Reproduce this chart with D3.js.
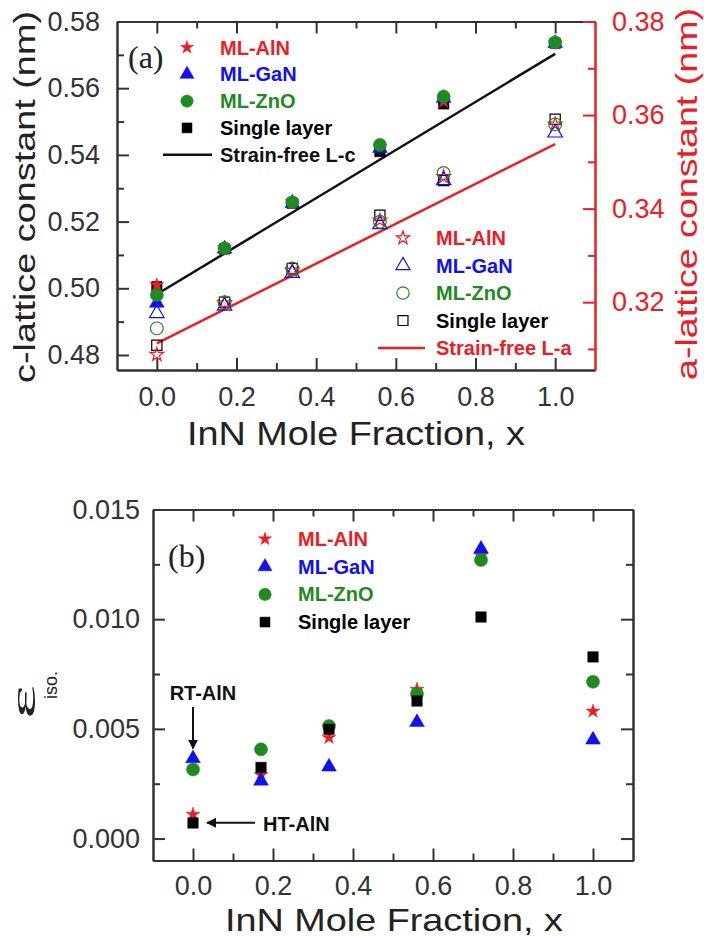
<!DOCTYPE html>
<html>
<head>
<meta charset="utf-8">
<script src="https://cdn.jsdelivr.net/npm/d3@7"></script>
<style>
body { margin: 0; background: #fff; }
</style>
</head>
<body>
<div id="chart"></div>
<script>
// InN mole fraction of each sample
var xFrac = [0, 0.17, 0.34, 0.56, 0.72, 1.0];
var seriesNames = ["ML-AlN", "ML-GaN", "ML-ZnO", "Single layer"];

// (a) c-lattice constant (nm), filled markers, left axis
var cAlN    = [0.5010, 0.5122, 0.5260, 0.5425, 0.5560, 0.5735];
var cGaN    = [0.4956, 0.5118, 0.5255, 0.5420, 0.5570, 0.5735];
var cZnO    = [0.4980, 0.5120, 0.5258, 0.5430, 0.5575, 0.5737];
var cSingle = [0.5005, 0.5118, 0.5255, 0.5410, 0.5553, 0.5735];

// (a) a-lattice constant (nm), open markers, right axis
var aAlN    = [0.3088, 0.3198, 0.3268, 0.3375, 0.3468, 0.3580];
var aGaN    = [0.3176, 0.3192, 0.3262, 0.3366, 0.3460, 0.3562];
var aZnO    = [0.3144, 0.3200, 0.3272, 0.3372, 0.3476, 0.3580];
var aSingle = [0.3108, 0.3200, 0.3272, 0.3386, 0.3460, 0.3591];

// strain-free (Vegard) lines
var lineX = [0, 1];
var cFree = [0.4982, 0.5703];
var aFree = [0.3112, 0.3538];

// (b) isotropic strain
var sAlN    = [0.00110, 0.00290, 0.00460, 0.00680, 0.01290, 0.00580];
var sGaN    = [0.00365, 0.00263, 0.00327, 0.00530, 0.01320, 0.00450];
var sZnO    = [0.00315, 0.00407, 0.00513, 0.00660, 0.01270, 0.00715];
var sSingle = [0.00071, 0.00324, 0.00498, 0.00627, 0.01010, 0.00828];

// tick values
var xTicks = [0, 0.2, 0.4, 0.6, 0.8, 1.0];
var xMinor = [0.1, 0.3, 0.5, 0.7, 0.9];
var cTicks = [0.48, 0.50, 0.52, 0.54, 0.56, 0.58];
var cMinor = [0.49, 0.51, 0.53, 0.55, 0.57];
var aTicks = [0.32, 0.34, 0.36, 0.38];
var aMinor = [0.31, 0.33, 0.35, 0.37];
var sTicks = [0, 0.005, 0.010, 0.015];
var sMinor = [0.0025, 0.0075, 0.0125];

function main(){
    var RED = "#ee1c25", BLUE = "#1010f0", GREEN = "#1f8a1f", BLACK = "#000000";
    var AXC = "#333333";
    var colors = [RED, BLUE, GREEN, BLACK];
    var shapes = [d3.symbolStar, d3.symbolTriangle, d3.symbolCircle, d3.symbolSquare];
    var sizes = [60, 95, 135, 110];

    var svg = d3.select("#chart").append("svg")
        .attr("width", 704)
        .attr("height", 937)
        .style("font-family", "'Liberation Sans', Arial, sans-serif");

    svg.append("defs").append("marker")
        .attr("id", "arrow")
        .attr("viewBox", "0 0 10 10")
        .attr("refX", 9).attr("refY", 5)
        .attr("markerWidth", 5).attr("markerHeight", 5)
        .attr("orient", "auto")
        .append("path")
        .attr("d", "M0,0 L10,5 L0,10 z")
        .attr("fill", "#111");

    // one axis with major or minor ticks, drawn inward
    function addAxis(axisFn, scale, values, size, pad, labels, color, transform, fmt){
        var ax = d3[axisFn](scale).tickValues(values).tickSize(size)
            .tickSizeOuter(0).tickPadding(pad)
            .tickFormat(labels ? fmt : function(){ return ""; });
        var g = svg.append("g").attr("transform", transform).call(ax);
        g.select(".domain").attr("stroke", color).attr("stroke-width", 2);
        g.selectAll(".tick line").attr("stroke", color).attr("stroke-width", 2);
        g.selectAll(".tick text")
            .attr("fill", color)
            .attr("font-size", "27px")
            .attr("font-family", "'Liberation Sans', Arial, sans-serif");
        return g;
    }

    function drawSymbols(xs, ys, vals, i, open){
        svg.append("g").selectAll("path")
            .data(vals)
            .enter().append("path")
            .attr("transform", function(d, k){ return "translate(" + xs(xFrac[k]) + "," + ys(d) + ")"; })
            .attr("d", d3.symbol().type(shapes[i]).size(open ? sizes[i] * 0.95 : sizes[i]))
            .attr("fill", open ? "none" : colors[i])
            .attr("stroke", colors[i])
            .attr("stroke-width", open ? 1.2 : 0.5);
    }

    function legend(x0, y0, step, open, lineLabel, lineColor, lineX0, lineX1){
        seriesNames.forEach(function(name, i){
            var yy = y0 + i * step;
            svg.append("path")
                .attr("transform", "translate(" + x0 + "," + yy + ")")
                .attr("d", d3.symbol().type(shapes[i]).size(sizes[i] * 0.9))
                .attr("fill", open ? "none" : colors[i])
                .attr("stroke", colors[i])
                .attr("stroke-width", open ? 1.2 : 0.5);
            svg.append("text")
                .attr("x", x0 + 33).attr("y", yy + 7)
                .attr("font-size", "20px").attr("font-weight", "bold")
                .attr("fill", colors[i])
                .text(name);
        });
        if (lineLabel) {
            var yl = y0 + 4 * step;
            svg.append("line")
                .attr("x1", lineX0).attr("x2", lineX1)
                .attr("y1", yl).attr("y2", yl)
                .attr("stroke", lineColor).attr("stroke-width", 2.5);
            svg.append("text")
                .attr("x", x0 + 33).attr("y", yl + 7)
                .attr("font-size", "20px").attr("font-weight", "bold")
                .attr("fill", lineColor)
                .text(lineLabel);
        }
    }

    // ---------------- panel (a) ----------------
    var xA = d3.scaleLinear().domain([-0.1, 1.1]).range([117, 595]);
    var cY = d3.scaleLinear().domain([0.4755, 0.58]).range([370, 21.5]);
    var aY = d3.scaleLinear().domain([0.3055, 0.38]).range([370, 21.5]);

    addAxis("axisBottom", xA, xTicks, -12, 17, true, AXC, "translate(0,370)", d3.format(".1f"));
    addAxis("axisBottom", xA, xMinor, -7, 17, false, AXC, "translate(0,370)");
    addAxis("axisTop", xA, xTicks, -12, 5, false, AXC, "translate(0,21.5)");
    addAxis("axisTop", xA, xMinor, -7, 5, false, AXC, "translate(0,21.5)");
    addAxis("axisLeft", cY, cTicks, -12, 17, true, AXC, "translate(117,0)", d3.format(".2f"));
    addAxis("axisLeft", cY, cMinor, -7, 17, false, AXC, "translate(117,0)");
    addAxis("axisRight", aY, aTicks, -12, 17, true, RED, "translate(595,0)", d3.format(".2f"));
    addAxis("axisRight", aY, aMinor, -7, 17, false, RED, "translate(595,0)");

    var lineC = d3.line().x(function(d, k){ return xA(lineX[k]); }).y(function(d){ return cY(d); });
    var lineA = d3.line().x(function(d, k){ return xA(lineX[k]); }).y(function(d){ return aY(d); });
    svg.append("path").datum(cFree).attr("d", lineC)
        .attr("fill", "none").attr("stroke", "#111").attr("stroke-width", 2.5);
    svg.append("path").datum(aFree).attr("d", lineA)
        .attr("fill", "none").attr("stroke", RED).attr("stroke-width", 2.5);

    // open markers (a-lattice)
    drawSymbols(xA, aY, aSingle, 3, true);
    drawSymbols(xA, aY, aAlN, 0, true);
    drawSymbols(xA, aY, aGaN, 1, true);
    drawSymbols(xA, aY, aZnO, 2, true);
    // filled markers (c-lattice)
    drawSymbols(xA, cY, cSingle, 3, false);
    drawSymbols(xA, cY, cAlN, 0, false);
    drawSymbols(xA, cY, cGaN, 1, false);
    drawSymbols(xA, cY, cZnO, 2, false);

    svg.append("text").attr("x", 128).attr("y", 68)
        .attr("font-family", "'Liberation Serif', 'Times New Roman', serif")
        .attr("font-size", "32px").attr("fill", "#222").text("(a)");

    legend(187, 47.5, 26.8, false, "Strain-free L-c", "#111", 163, 212);
    legend(403, 238, 27.5, true, "Strain-free L-a", RED, 378, 425);

    svg.append("text")
        .attr("transform", "translate(24,197) rotate(-90)")
        .attr("text-anchor", "middle").attr("dy", "0.35em")
        .attr("font-size", "30px").attr("fill", "#222")
        .attr("textLength", 372).attr("lengthAdjust", "spacingAndGlyphs")
        .text("c-lattice constant (nm)");
    svg.append("text")
        .attr("transform", "translate(686,194) rotate(-90)")
        .attr("text-anchor", "middle").attr("dy", "0.35em")
        .attr("font-size", "30px").attr("fill", RED)
        .attr("textLength", 372).attr("lengthAdjust", "spacingAndGlyphs")
        .text("a-lattice constant (nm)");
    svg.append("text")
        .attr("x", 356).attr("y", 445)
        .attr("text-anchor", "middle")
        .attr("font-size", "34px").attr("fill", "#222")
        .attr("textLength", 338).attr("lengthAdjust", "spacingAndGlyphs")
        .text("InN Mole Fraction, x");

    // ---------------- panel (b) ----------------
    var xB = d3.scaleLinear().domain([-0.1, 1.1]).range([153, 633]);
    var sY = d3.scaleLinear().domain([-0.001, 0.015]).range([860.5, 509.5]);

    addAxis("axisBottom", xB, xTicks, -12, 15, true, AXC, "translate(0,860.5)", d3.format(".1f"));
    addAxis("axisBottom", xB, xMinor, -7, 15, false, AXC, "translate(0,860.5)");
    addAxis("axisTop", xB, xTicks, -12, 5, false, AXC, "translate(0,509.5)");
    addAxis("axisTop", xB, xMinor, -7, 5, false, AXC, "translate(0,509.5)");
    addAxis("axisLeft", sY, sTicks, -12, 13, true, AXC, "translate(153,0)", d3.format(".3f"));
    addAxis("axisLeft", sY, sMinor, -7, 13, false, AXC, "translate(153,0)");
    addAxis("axisRight", sY, sTicks, -12, 5, false, AXC, "translate(633,0)");
    addAxis("axisRight", sY, sMinor, -7, 5, false, AXC, "translate(633,0)");

    drawSymbols(xB, sY, sAlN, 0, false);
    drawSymbols(xB, sY, sGaN, 1, false);
    drawSymbols(xB, sY, sZnO, 2, false);
    drawSymbols(xB, sY, sSingle, 3, false);

    svg.append("text").attr("x", 168).attr("y", 567)
        .attr("font-family", "'Liberation Serif', 'Times New Roman', serif")
        .attr("font-size", "32px").attr("fill", "#222").text("(b)");

    legend(265, 539, 27.7, false, null);

    // annotations
    svg.append("text").attr("x", xB(0) + 10).attr("y", 700)
        .attr("text-anchor", "middle")
        .attr("font-size", "20px").attr("font-weight", "bold").attr("fill", "#111")
        .text("RT-AlN");
    svg.append("line")
        .attr("x1", xB(0)).attr("x2", xB(0))
        .attr("y1", sY(0.0060)).attr("y2", sY(0.0041))
        .attr("stroke", "#111").attr("stroke-width", 2)
        .attr("marker-end", "url(#arrow)");
    svg.append("line")
        .attr("x1", xB(0.155)).attr("x2", xB(0.035))
        .attr("y1", sY(0.00072)).attr("y2", sY(0.00072))
        .attr("stroke", "#111").attr("stroke-width", 2)
        .attr("marker-end", "url(#arrow)");
    svg.append("text").attr("x", xB(0.175)).attr("y", sY(0.00072) + 8)
        .attr("font-size", "20px").attr("font-weight", "bold").attr("fill", "#111")
        .text("HT-AlN");

    // epsilon iso label
    svg.append("text")
        .attr("transform", "translate(35,719) rotate(-90)")
        .attr("font-family", "'Liberation Serif', 'Times New Roman', serif")
        .attr("font-size", "36px").attr("fill", "#222")
        .attr("textLength", 34).attr("lengthAdjust", "spacingAndGlyphs")
        .text("ε");
    svg.append("text")
        .attr("transform", "translate(57,699) rotate(-90)")
        .attr("font-size", "18px").attr("fill", "#222")
        .text("iso.");

    svg.append("text")
        .attr("x", 394).attr("y", 931)
        .attr("text-anchor", "middle")
        .attr("font-size", "32px").attr("fill", "#222")
        .attr("textLength", 338).attr("lengthAdjust", "spacingAndGlyphs")
        .text("InN Mole Fraction, x");
}
main();
</script>
</body>
</html>
